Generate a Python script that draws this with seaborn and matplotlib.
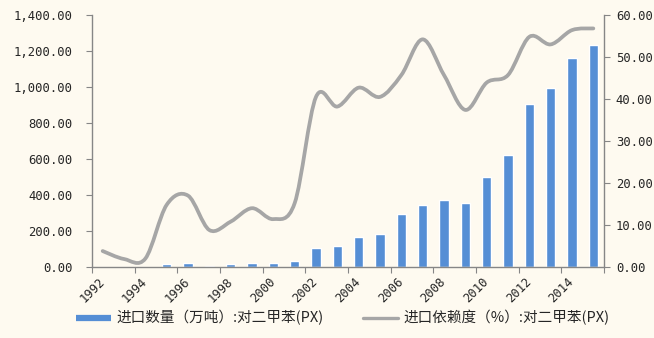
import numpy as np
import pandas as pd
import matplotlib
matplotlib.use("Agg")
import matplotlib.pyplot as plt
import seaborn as sns
from matplotlib.path import Path
from matplotlib.patches import PathPatch
from matplotlib.lines import Line2D
from matplotlib.ticker import FuncFormatter

# PX (paraxylene) imports and import dependency, 1992-2015
years = list(range(1992, 2016))
import_volume = [0, 0, 0, 15, 20, 8, 15, 20, 20, 33, 105, 115,
                 165, 182, 292, 342, 370, 355, 500, 622, 904, 996, 1163, 1233]
import_dependency = [3.8, 1.9, 2.0, 14.8, 17.0, 8.8, 10.8, 14.0, 11.4, 15.2, 40.5, 38.2,
                     42.7, 40.5, 45.7, 54.2, 45.7, 37.4, 43.9, 45.7, 54.8, 53.0, 56.4, 56.8]
label_bar = "进口数量（万吨）:对二甲苯(PX)"
label_line = "进口依赖度（%）:对二甲苯(PX)"

BG = "#FEFAF0"
BAR = "#558ED5"
LINE = "#A6A6A6"
SPINE = "#868686"
TXT = "#262626"

sns.set_theme(style="white")
plt.rcParams["font.family"] = ["DejaVu Sans Mono", "Noto Sans CJK SC"]

df = pd.DataFrame({"year": [str(y) for y in years], "volume": import_volume})

fig = plt.figure(figsize=(6.54, 3.38), dpi=100, facecolor=BG)
ax = fig.add_axes([92 / 654, 1 - 267 / 338, (604 - 92) / 654, (267 - 15) / 338])
ax.set_facecolor(BG)

sns.barplot(data=df, x="year", y="volume", color=BAR, width=0.43,
            saturation=1, ax=ax, zorder=2)
ax.set_xlim(-0.5, len(years) - 0.5)
ax.set_ylim(0, 1400)
ax.set_yticks(np.arange(0, 1401, 200))
ax.yaxis.set_major_formatter(FuncFormatter(lambda v, p: f"{v:,.2f}"))

tick_pos = np.arange(-0.5, len(years), 2)
tick_lab = [str(y) for y in years[::2]] + [""]
ax.set_xticks(tick_pos[:len(tick_lab)])
ax.set_xticklabels(tick_lab[:len(tick_pos)], rotation=45, ha="center", va="top")
ax.set_xlabel("")
ax.set_ylabel("")

# smoothed dependency curve on the secondary axis (Catmull-Rom as cubic Bezier)
ax2 = ax.twinx()
ax2.set_ylim(0, 60)
ax2.set_yticks(np.arange(0, 61, 10))
ax2.yaxis.set_major_formatter(FuncFormatter(lambda v, p: f"{v:.2f}"))
xs = np.arange(len(years), dtype=float)
ys = np.array(import_dependency, dtype=float)
pts = np.column_stack([xs, ys])
verts = [tuple(pts[0])]
codes = [Path.MOVETO]
n = len(pts)
for i in range(n - 1):
    p0 = pts[max(i - 1, 0)]
    p1 = pts[i]
    p2 = pts[i + 1]
    p3 = pts[min(i + 2, n - 1)]
    c1 = p1 + (p2 - p0) / 6.0
    c2 = p2 - (p3 - p1) / 6.0
    verts += [tuple(c1), tuple(c2), tuple(p2)]
    codes += [Path.CURVE4] * 3
curve = PathPatch(Path(verts, codes), fill=False, edgecolor=LINE, lw=2.7,
                  capstyle="round", joinstyle="round", zorder=3)
ax2.add_patch(curve)

for a in (ax, ax2):
    for s in a.spines.values():
        s.set_visible(False)
ax.spines["left"].set_visible(True)
ax.spines["bottom"].set_visible(True)
ax2.spines["right"].set_visible(True)
for s in (ax.spines["left"], ax.spines["bottom"], ax2.spines["right"]):
    s.set_color(SPINE)
    s.set_linewidth(1.0)

ax.tick_params(axis="y", direction="out", length=4, width=0.8, color=SPINE,
               labelsize=8.8, labelcolor=TXT, pad=10, left=True)
ax.tick_params(axis="x", direction="out", length=4, width=0.8, color=SPINE,
               labelsize=8.8, labelcolor=TXT, pad=2, bottom=True)
ax2.tick_params(axis="y", direction="out", length=4, width=0.8, color=SPINE,
                labelsize=8.8, labelcolor=TXT, pad=4.5, right=True)
ax.grid(False)
ax2.grid(False)

handles = [Line2D([0], [0], color=BAR, lw=4.5, solid_capstyle="butt"),
           Line2D([0], [0], color=LINE, lw=2.4, solid_capstyle="round")]
fig.legend(handles, [label_bar, label_line], loc="center left",
           bbox_to_anchor=(63 / 654, 1 - 318 / 338), ncol=2, frameon=False,
           handlelength=2.4, handletextpad=0.35, columnspacing=2.7,
           prop={"family": ["Noto Sans CJK SC", "DejaVu Sans"], "size": 10.5},
           labelcolor=TXT)

fig.savefig("out.png", dpi=100, facecolor=BG)
